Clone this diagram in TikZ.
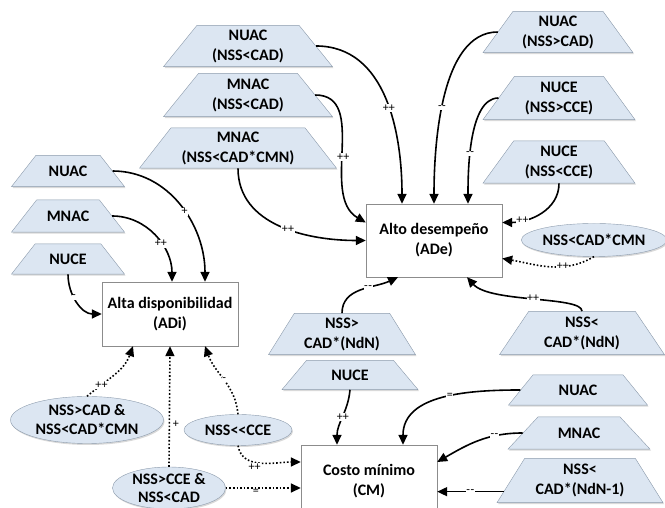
\documentclass[tikz,border=0pt]{standalone}
\usepackage{fontspec}
\setmainfont{Carlito}[Ligatures=TeXOff]
\usetikzlibrary{shapes.geometric,arrows.meta,shadows,calc}
\definecolor{boxfill}{RGB}{220,230,242}
\definecolor{boxline}{RGB}{140,155,172}

\begin{document}
\begin{tikzpicture}[x=1pt,y=1pt,
    tz/.style 2 args={trapezium,trapezium left angle=#1,trapezium right angle=#1,trapezium stretches body,
      draw=boxline,fill=boxfill,inner xsep=0pt,inner ysep=#2,align=center,font=\bfseries\fontsize{16}{20}\selectfont,
      drop shadow={shadow xshift=1pt,shadow yshift=-1.5pt,opacity=.3}},
    oval/.style={ellipse,draw=boxline,fill=boxfill,inner sep=0pt,align=center,font=\bfseries\fontsize{16}{19}\selectfont,
      drop shadow={shadow xshift=1pt,shadow yshift=-1.5pt,opacity=.3}},
    goal/.style={rectangle,draw=black!45,fill=white,minimum width=136pt,align=center,font=\bfseries\fontsize{16}{20}\selectfont},
    arr/.style={line width=1.6pt,-{Triangle[length=10pt,width=9pt]}},
    dotarr/.style={arr,dotted},
    lbl/.style={font=\fontsize{12}{12}\selectfont,fill=white,inner sep=.6pt}]
  \useasboundingbox (0,0) rectangle (665,508);

  % goals
  \node[goal,minimum height=73pt] (ade) at (434,267.5) {Alto desempeño\\(ADe)};
  \node[goal,minimum height=64pt] (adi) at (170,194) {Alta disponibilidad\\(ADi)};
  \node[goal,minimum height=72pt] (cm) at (369,27) {Costo mínimo\\(CM)};

  % factors
  \node[tz={51}{4.2pt},minimum width=169pt] (nuacA) at (248,462) {NUAC\\(NSS<CAD)};
  \node[tz={51}{5.2pt},minimum width=169pt] (mnacA) at (248,413) {MNAC\\(NSS<CAD)};
  \node[tz={52}{3.7pt},minimum width=197pt] (mnacB) at (238,360) {MNAC\\(NSS<CAD*CMN)};
  \node[tz={54}{4.2pt},minimum width=150pt] (nuacB) at (558,476) {NUAC\\(NSS>CAD)};
  \node[tz={54}{5.2pt},minimum width=152pt] (nuceA) at (559,410) {NUCE\\(NSS>CCE)};
  \node[tz={54}{4.7pt},minimum width=152pt] (nuceB) at (559,346) {NUCE\\(NSS<CCE)};
  \node[tz={52}{10.3pt},minimum width=113pt] (nuacL) at (68,337) {NUAC};
  \node[tz={52}{10.8pt},minimum width=113pt] (mnacL) at (68,292) {MNAC};
  \node[tz={52}{9.8pt},minimum width=113pt] (nuceL) at (68,249) {NUCE};
  \node[tz={58}{4.2pt},minimum width=147pt] (ndnA) at (342,174) {NSS>\\CAD*(NdN)};
  \node[tz={50}{9.3pt},minimum width=136pt] (nuceM) at (350,133) {NUCE};
  \node[tz={56}{5.2pt},minimum width=165pt] (ndnB) at (582,175) {NSS<\\CAD*(NdN)};
  \node[tz={51}{9.8pt},minimum width=139pt] (nuacR) at (578,118) {NUAC};
  \node[tz={47}{10.8pt},minimum width=142pt] (mnacR) at (579,75) {MNAC};
  \node[tz={58}{5.7pt},minimum width=166pt] (ndnC) at (580,27.5) {NSS<\\CAD*(NdN-1)};

  \node[oval,minimum width=142pt,minimum height=33pt] (cmnE) at (594,268) {NSS<CAD*CMN};
  \node[oval,minimum width=153pt,minimum height=47pt] (adcmn) at (87,88) {NSS>CAD \&\\NSS<CAD*CMN};
  \node[oval,minimum width=108pt,minimum height=31pt] (llcce) at (238,78) {NSS<<CCE};
  \node[oval,minimum width=113pt,minimum height=42pt,font=\bfseries\fontsize{16}{18}\selectfont] (ccecad) at (169,20) {NSS>CCE \&\\NSS<CAD};

  % into ADe
  \draw[arr] (nuacA.right side) to[out=0,in=90] node[lbl,pos=.55]{++} ([xshift=-32pt]ade.north);
  \draw[arr] (mnacA.right side) to[out=0,in=150] node[lbl,pos=.55]{++} ([yshift=18pt]ade.west);
  \draw[arr] (mnacB.south) to[out=-90,in=180] node[lbl,pos=.55]{++} (ade.west);
  \draw[arr] (nuacB.left side) to[out=180,in=90,looseness=.8] node[lbl,pos=.55]{-\kern.5pt-} (ade.north);
  \draw[arr] (nuceA.left side) to[out=180,in=90,looseness=.7] node[lbl,pos=.6]{-\kern.5pt-} ([xshift=34pt]ade.north);
  \draw[arr] (nuceB.south) to[out=-90,in=0] node[lbl,pos=.75]{++} ([yshift=18pt]ade.east);
  \draw[dotarr] (cmnE.south) to[out=-150,in=-10] node[lbl,pos=.35]{++} ([yshift=-18pt]ade.east);
  \draw[arr] (ndnA.north) to[out=90,in=205] node[lbl,pos=.6]{-\kern.5pt-} ([xshift=-36pt]ade.south);
  \draw[arr] (ndnB.north) .. controls (582,212) and (490,205) .. node[lbl]{++} ([xshift=33pt]ade.south);

  % into ADi
  \draw[arr] (nuacL.right side) to[out=0,in=90] node[lbl,pos=.55]{+} ([xshift=35pt]adi.north);
  \draw[arr] (mnacL.right side) to[out=0,in=90] node[lbl,pos=.6]{++} ([xshift=2pt]adi.north);
  \draw[arr] (nuceL.south) to[out=-90,in=180] node[lbl,pos=.4]{-} (adi.west);
  \draw[dotarr] (adcmn.north) to[out=40,in=-110] node[lbl,pos=.25]{++} ([xshift=-37pt]adi.south);
  \draw[dotarr] (ccecad.north) -- node[lbl,right=2pt,pos=.35]{+} (adi.south);
  \draw[dotarr] (llcce.north) to[out=95,in=-70] node[lbl,pos=.5]{-} ([xshift=35pt]adi.south);

  % into CM
  \draw[arr] (nuceM.south) to[out=-95,in=90] node[lbl,pos=.5]{++} ([xshift=-32pt]cm.north);
  \draw[arr] (nuacR.left side) to[out=180,in=90] node[lbl,pos=.45]{=} ([xshift=34pt]cm.north);
  \draw[arr] (mnacR.left side) to[out=180,in=30] node[lbl,pos=.3]{-\kern.5pt-} ([yshift=19pt]cm.east);
  \draw[arr] ($(ndnC.bottom left corner)!.25!(ndnC.top left corner)$) coordinate (ndnCl) -- node[lbl]{-\kern.5pt-} (cm.east |- ndnCl);
  \draw[dotarr] (llcce.south) to[out=-80,in=180] node[lbl,below,pos=.4]{++} ([yshift=19pt]cm.west);
  \draw[dotarr] (ccecad.east) -- node[lbl,below,pos=.4]{=} (cm.west |- ccecad.east);
\end{tikzpicture}
\end{document}
